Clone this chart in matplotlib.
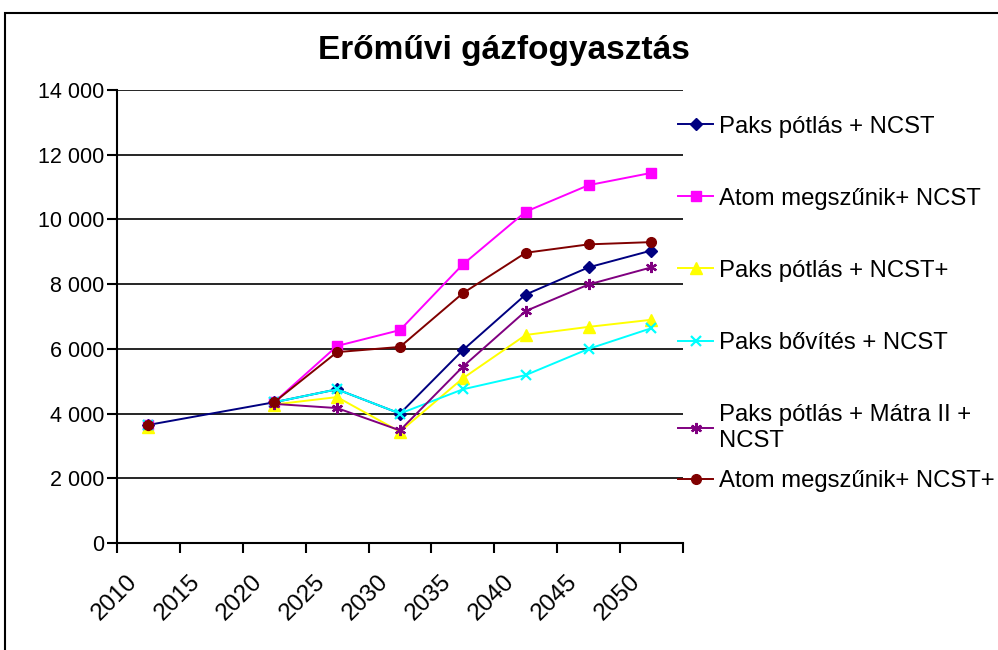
import numpy as np
import matplotlib.pyplot as plt
from matplotlib.patches import Rectangle

plt.rcParams['font.family'] = ['Liberation Sans', 'DejaVu Sans']

# categories (one per 5 years), 2015 has no data
years = ['2010', '2015', '2020', '2025', '2030', '2035', '2040', '2045', '2050']

paks_ncst = [3650, np.nan, 4350, 4750, 4000, 5960, 7680, 8520, 9040]
atom_ncst = [3650, np.nan, 4350, 6090, 6580, 8610, 10240, 11060, 11440]
paks_ncst_plus = [3600, np.nan, 4280, 4510, 3440, 5090, 6430, 6680, 6900]
bovites_ncst = [3650, np.nan, 4350, 4750, 4000, 4750, 5190, 6000, 6640]
matra_ncst = [3650, np.nan, 4300, 4170, 3480, 5450, 7170, 7990, 8520]
atom_ncst_plus = [3650, np.nan, 4350, 5900, 6060, 7720, 8970, 9230, 9300]

series = [
    ('Paks pótlás + NCST', paks_ncst, '#000080', 'D', 6),
    ('Atom megszűnik+ NCST', atom_ncst, '#FF00FF', 's', 7),
    ('Paks pótlás + NCST+', paks_ncst_plus, '#FFFF00', '^', 8),
    ('Paks bővítés + NCST', bovites_ncst, '#00FFFF', 'x', 7),
    ('Paks pótlás + Mátra II +\nNCST', matra_ncst, '#800080', (6, 2, 0), 8),
    ('Atom megszűnik+ NCST+', atom_ncst_plus, '#800000', 'o', 7),
]

fig = plt.figure(figsize=(9.98, 6.5), dpi=100)
ax = fig.add_axes([0.1172, 0.1646, 0.5671, 0.6969])

x = np.arange(len(years)) + 0.5
handles = []
for i, (label, vals, color, marker, ms) in enumerate(series):
    vals = np.array(vals, dtype=float)
    if i == 0:
        # first series drawn through the missing category
        ok = ~np.isnan(vals)
        xs, ys = x[ok], vals[ok]
    else:
        xs, ys = x, vals
    mew = 1.6 if marker in ('x', (6, 2, 0)) else 1.0
    h, = ax.plot(xs, ys, color=color, lw=1.4, marker=marker, ms=ms,
                 mec=color, mfc=color, mew=mew, label=label)
    handles.append(h)

ax.set_xlim(0, len(years))
ax.set_ylim(0, 14000)
ax.set_yticks(range(0, 14001, 2000))
ax.set_yticklabels(['{:,}'.format(v).replace(',', ' ') for v in range(0, 14001, 2000)],
                   fontsize=15.5)
ax.yaxis.grid(True, color='black', lw=1.2)
ax.set_axisbelow(True)

# tick marks on category borders, labels slightly to the right
ax.set_xticks(range(len(years) + 1))
ax.set_xticklabels([])
ax.set_xticks(np.arange(len(years)) + 0.14, minor=True)
ax.set_xticklabels(years, minor=True, fontsize=17.5, rotation=45, ha='right',
                   rotation_mode='anchor')
ax.tick_params(axis='x', which='minor', length=0, pad=20)

for s in ['top', 'right']:
    ax.spines[s].set_visible(False)
for s in ['left', 'bottom']:
    ax.spines[s].set_linewidth(1.5)
ax.tick_params(axis='both', which='major', direction='out', length=7, width=1.5,
               colors='black')
ax.tick_params(axis='y', pad=2)

fig.text(0.505, 0.923, 'Erőművi gázfogyasztás', ha='center', va='center',
         fontsize=24, fontweight='bold')

leg1 = fig.legend(handles=handles[:5], loc='upper left', bbox_to_anchor=(0.670, 0.837),
                  frameon=False, fontsize=17.2, labelspacing=2.1, handlelength=1.45,
                  handletextpad=0.25, borderaxespad=0)
fig.legend(handles=handles[5:], loc='center left', bbox_to_anchor=(0.670, 1 - 481 / 650),
           frameon=False, fontsize=17.2, handlelength=1.45, handletextpad=0.25,
           borderaxespad=0)

fig.patches.append(Rectangle((5 / 998, -0.1), 1.2, (650 - 13) / 650 + 0.1,
                             transform=fig.transFigure, fill=False,
                             edgecolor='black', lw=1.5))

plt.savefig('out.png', dpi=100, facecolor='white')
plt.close()
